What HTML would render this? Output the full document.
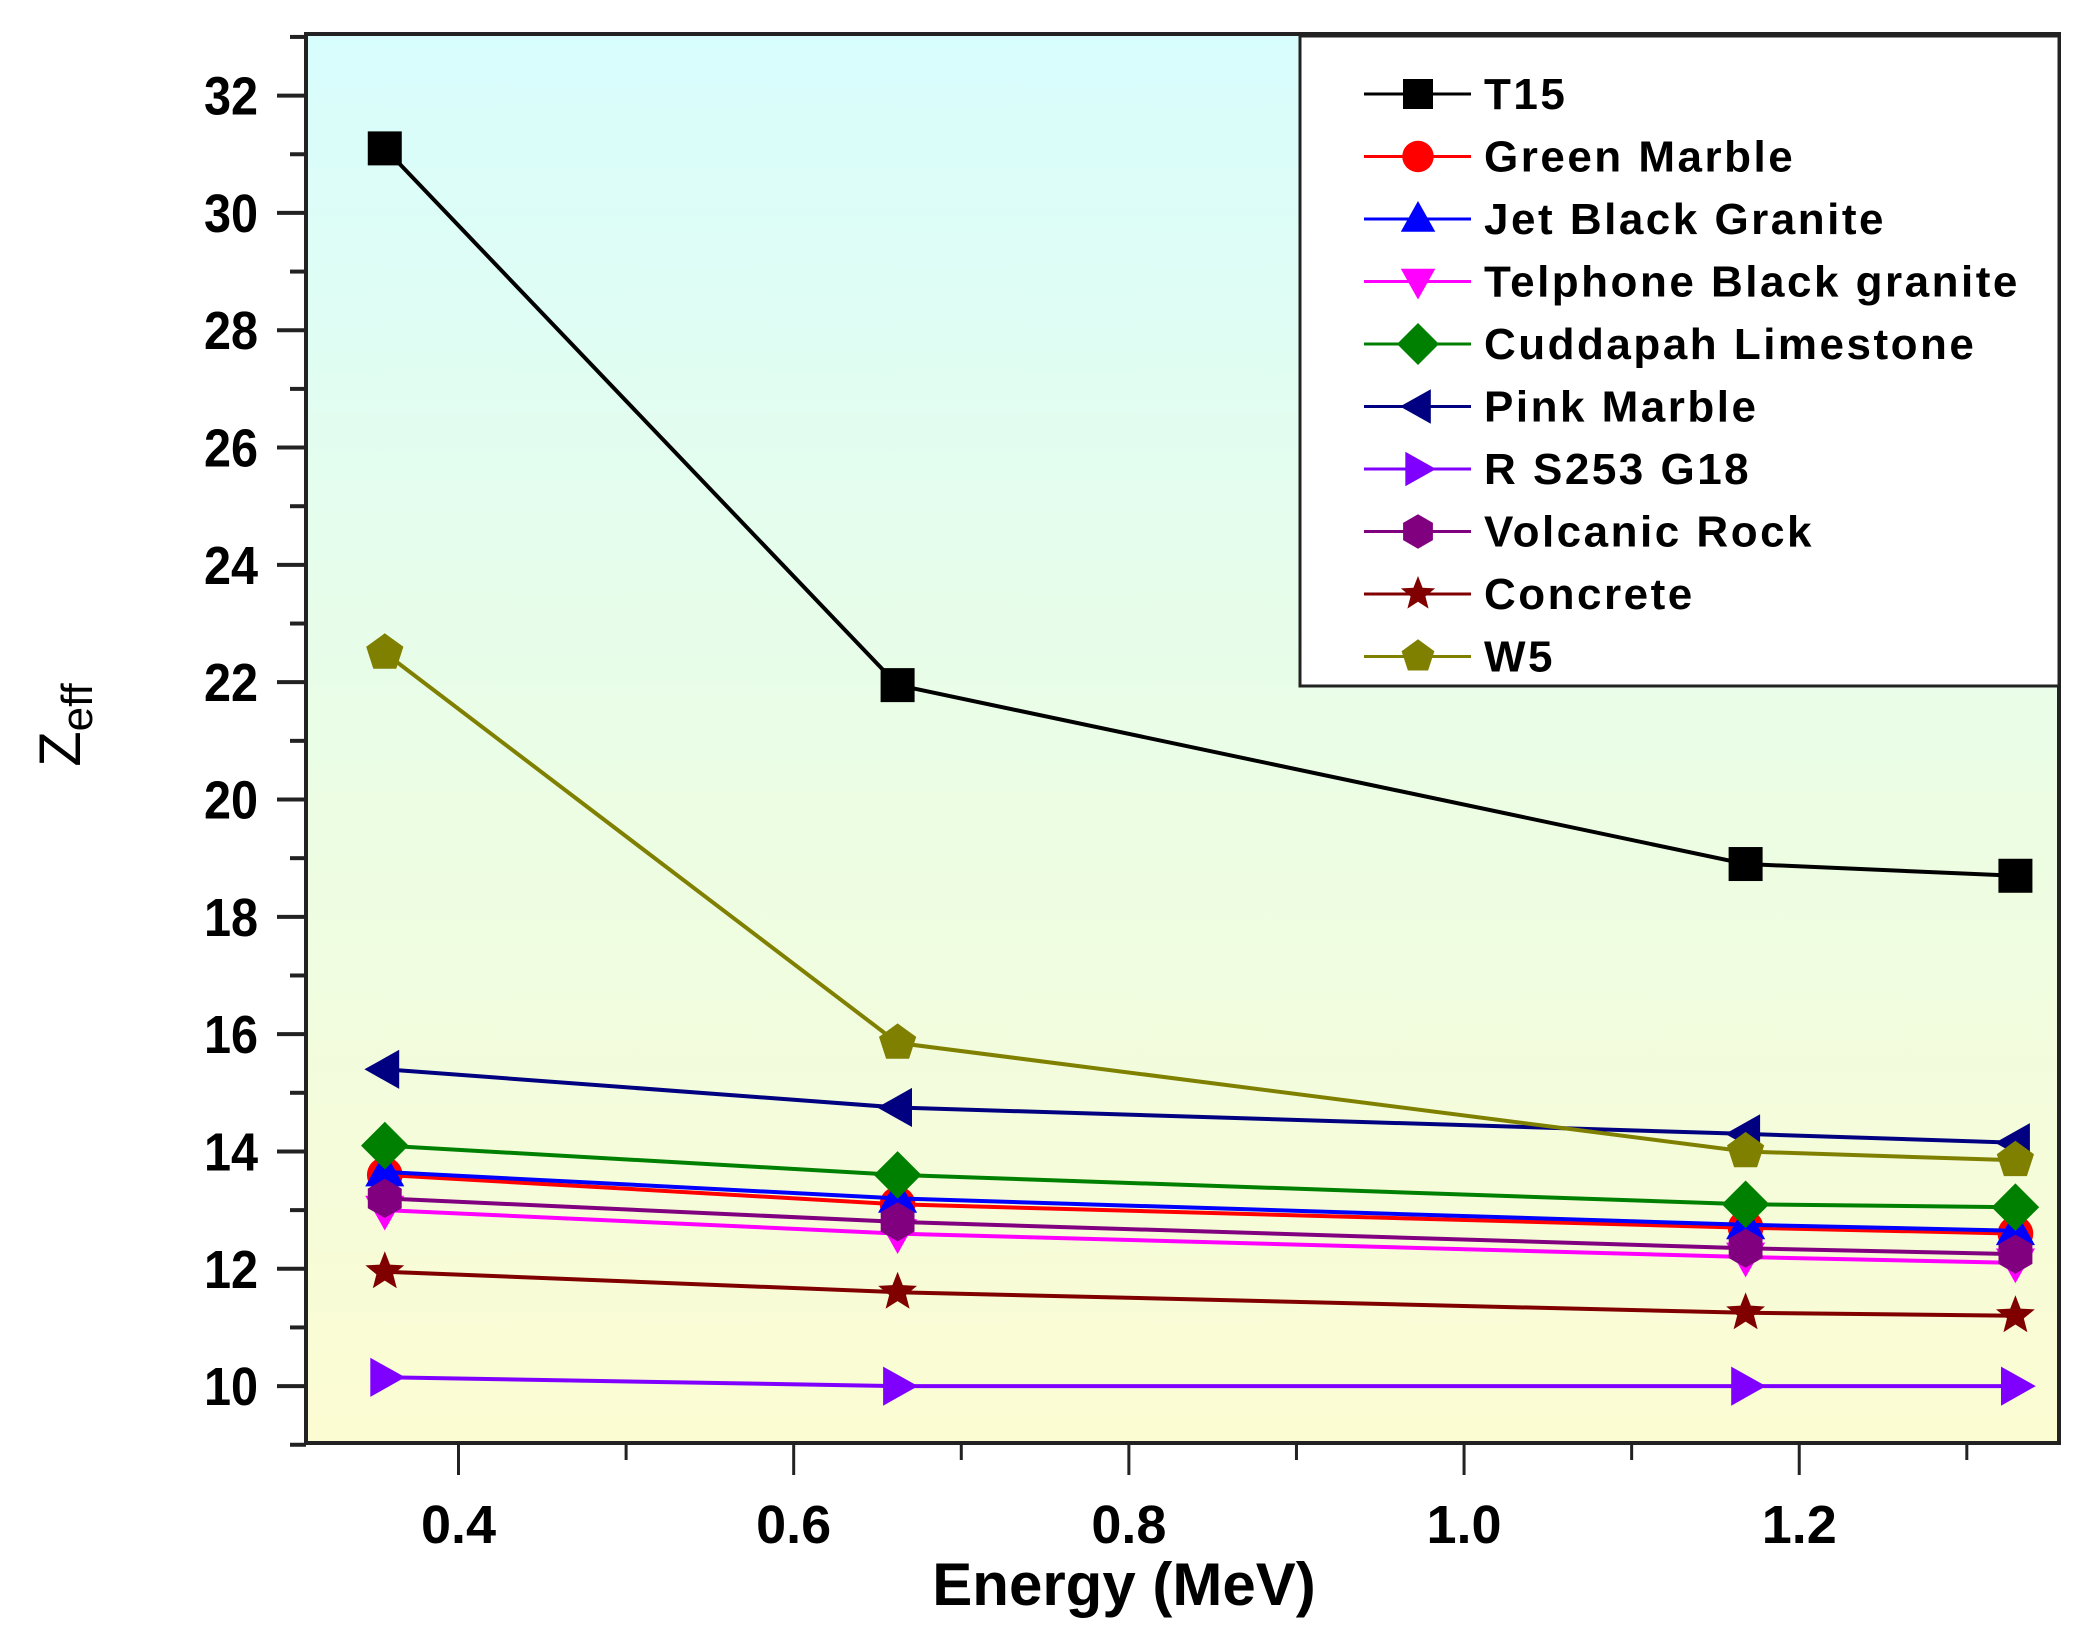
<!DOCTYPE html>
<html><head><meta charset="utf-8"><style>
html,body{margin:0;padding:0;background:#fff;}
svg{display:block;font-family:"Liberation Sans",Arial,sans-serif;}
</style></head><body>
<svg id="chart" width="2095" height="1650" viewBox="0 0 2095 1650" xmlns="http://www.w3.org/2000/svg">
<defs>
<linearGradient id="bg" x1="0" y1="0" x2="0" y2="1">
<stop offset="0" stop-color="#d8fdfd"/>
<stop offset="0.5" stop-color="#eafde6"/>
<stop offset="1" stop-color="#fcfcd2"/>
</linearGradient>
</defs>
<rect x="306" y="34" width="1753" height="1409" fill="url(#bg)"/>
<g id="series"></g>
<g id="axes"></g>
<rect x="306" y="34" width="1753" height="1409" fill="none" stroke="#222" stroke-width="4"/>
<g id="legend"></g>
<text x="1124" y="1605" text-anchor="middle" font-size="60" font-weight="bold">Energy (MeV)</text>
<text transform="translate(80,725) rotate(-90)" text-anchor="middle" font-size="58">Z<tspan font-size="44" dy="12">eff</tspan></text>
</svg>
<script>
const categories = [0.356, 0.662, 1.168, 1.329];
const seriesNames = ["T15","Green Marble","Jet Black Granite","Telphone Black granite","Cuddapah Limestone","Pink Marble","R S253 G18","Volcanic Rock","Concrete","W5"];
const t15 = [31.1, 21.95, 18.9, 18.7];
const greenMarble = [13.6, 13.1, 12.7, 12.6];
const jetBlack = [13.65, 13.2, 12.75, 12.65];
const telphone = [13.0, 12.6, 12.2, 12.1];
const cuddapah = [14.1, 13.6, 13.1, 13.05];
const pinkMarble = [15.4, 14.75, 14.3, 14.15];
const rs253 = [10.15, 10.0, 10.0, 10.0];
const volcanic = [13.2, 12.8, 12.35, 12.25];
const concrete = [11.95, 11.6, 11.25, 11.2];
const w5 = [22.5, 15.85, 14.0, 13.85];
const xTickLabels = ["0.4","0.6","0.8","1.0","1.2"];
const yTickLabels = ["10","12","14","16","18","20","22","24","26","28","30","32"];

const NS = "http://www.w3.org/2000/svg";
const X0 = 306, X1 = 2059, Y0 = 1443, Y1 = 34;
const xMin = 0.309, xMax = 1.355, yMin = 9.03, yMax = 33.05;
function xs(v){ return X0 + (v - xMin) / (xMax - xMin) * (X1 - X0); }
function ys(v){ return Y0 - (v - yMin) / (yMax - yMin) * (Y0 - Y1); }
function mk(tag, attrs, parent){ const e = document.createElementNS(NS, tag); for (const k in attrs) e.setAttribute(k, attrs[k]); parent.appendChild(e); return e; }

const styles = [
 {d:t15, c:"#000000", m:"square"},
 {d:greenMarble, c:"#ff0000", m:"circle"},
 {d:jetBlack, c:"#0000ff", m:"up"},
 {d:telphone, c:"#ff00ff", m:"down"},
 {d:cuddapah, c:"#008000", m:"diamond"},
 {d:pinkMarble, c:"#000080", m:"left"},
 {d:rs253, c:"#8000ff", m:"right"},
 {d:volcanic, c:"#800080", m:"hex"},
 {d:concrete, c:"#800000", m:"star"},
 {d:w5, c:"#808000", m:"pent"}
];

function marker(g, type, cx, cy, s, color){
  const r = s/2;
  let e;
  if (type === "square") e = mk("rect", {x:cx-r, y:cy-r, width:s, height:s}, g);
  else if (type === "circle") e = mk("circle", {cx:cx, cy:cy, r:r*1.05}, g);
  else {
    let pts = [];
    if (type === "up") pts = [[0,-r*1.2],[r*1.15,r*0.85],[-r*1.15,r*0.85]];
    else if (type === "down") pts = [[0,r*1.2],[r*1.15,-r*0.85],[-r*1.15,-r*0.85]];
    else if (type === "left") pts = [[-r*1.2,0],[r*0.85,-r*1.15],[r*0.85,r*1.15]];
    else if (type === "right") pts = [[r*1.2,0],[-r*0.85,-r*1.15],[-r*0.85,r*1.15]];
    else if (type === "diamond") pts = [[0,-r*1.4],[r*1.4,0],[0,r*1.4],[-r*1.4,0]];
    else if (type === "hex") { for (let i=0;i<6;i++){ const a=Math.PI/6+i*Math.PI/3; pts.push([r*1.15*Math.cos(a), r*1.15*Math.sin(a)]);} }
    else if (type === "pent") { for (let i=0;i<5;i++){ const a=-Math.PI/2+i*2*Math.PI/5; pts.push([r*1.15*Math.cos(a), r*1.15*Math.sin(a)]);} }
    else if (type === "star") { for (let i=0;i<10;i++){ const a=-Math.PI/2+i*Math.PI/5; const rr=(i%2===0)?r*1.2:r*0.52; pts.push([rr*Math.cos(a), rr*Math.sin(a)]);} }
    e = mk("polygon", {points: pts.map(p => (cx+p[0]).toFixed(1)+","+(cy+p[1]).toFixed(1)).join(" ")}, g);
  }
  e.setAttribute("fill", color);
  return e;
}

const sg = document.getElementById("series");
styles.forEach((s, i) => {
  const g = mk("g", {}, sg);
  
  
  const pl = mk("polyline", {points: s.d.map((v,j) => xs(categories[j]).toFixed(1)+","+ys(v).toFixed(1)).join(" "), fill:"none", stroke:s.c, "stroke-width":4}, g);
  
  
  s.d.forEach((v,j) => {
    const m = marker(g, s.m, xs(categories[j]), ys(v), 34, s.c);
    
    
  });
});

const ag = document.getElementById("axes");
yTickLabels.forEach(lbl => {
  const v = parseFloat(lbl), y = ys(v);
  const t = mk("line", {x1:X0-29, x2:X0, y1:y, y2:y, stroke:"#222", "stroke-width":4}, ag);
  
  
  const m = mk("line", {x1:X0-16, x2:X0, y1:ys(v+1), y2:ys(v+1), stroke:"#222", "stroke-width":4}, ag);
  
  
  const tx = mk("text", {x:X0-48, y:y+19, "text-anchor":"end", "font-size":54, "font-weight":"bold", transform:"translate("+(X0-48)+",0) scale(0.9,1) translate("+(-(X0-48))+",0)"}, ag);
  tx.textContent = lbl;
  
  
});
const ym = mk("line", {x1:X0-16, x2:X0, y1:ys(9), y2:ys(9), stroke:"#222", "stroke-width":4}, ag);


xTickLabels.forEach(lbl => {
  const v = parseFloat(lbl), x = xs(v);
  const t = mk("line", {x1:x, x2:x, y1:Y0, y2:Y0+32, stroke:"#222", "stroke-width":3}, ag);
  
  
  const m = mk("line", {x1:xs(v+0.1), x2:xs(v+0.1), y1:Y0, y2:Y0+17, stroke:"#222", "stroke-width":3}, ag);
  
  
  const tx = mk("text", {x:x, y:Y0+100, "text-anchor":"middle", "font-size":54, "font-weight":"bold"}, ag);
  tx.textContent = lbl;
  
  
});

const lg = document.getElementById("legend");
const box = mk("rect", {x:1300, y:36, width:759, height:650, fill:"#fff", stroke:"#222", "stroke-width":3}, lg);


styles.forEach((s, i) => {
  const y = 94 + i * 62.5;
  const g = mk("g", {}, lg);
  
  
  mk("line", {x1:1364, x2:1471, y1:y, y2:y, stroke:s.c, "stroke-width":3}, g);
  marker(g, s.m, 1418, y, 30, s.c);
  const tx = mk("text", {x:1484, y:y+15, "font-size":44, "font-weight":"bold", "letter-spacing":"2.5"}, g);
  tx.textContent = seriesNames[i];
});
</script>
</body></html>
